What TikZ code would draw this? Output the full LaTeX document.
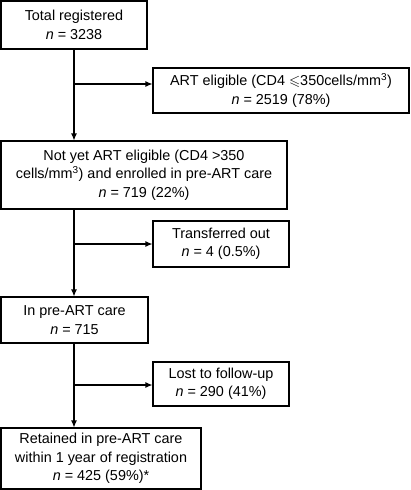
\documentclass[tikz,border=0pt]{standalone}
\usepackage{amssymb}
\usepackage{fontspec}
\setmainfont{Liberation Sans}
\usetikzlibrary{arrows.meta}
\begin{document}
\begin{tikzpicture}[x=1pt,y=-1pt,
  box/.style={draw,line width=1.1pt,align=center,inner sep=0pt,
    font=\fontsize{14.4}{18.5}\selectfont},
  conn/.style={line width=1.1pt},
  arr/.style={conn,-{Latex[length=7pt,width=6pt]}}]
\useasboundingbox (0,0) rectangle (410,490);
\node[box,minimum width=146,minimum height=48] (b1) at (74,25) {Total registered\\\textit{n} = 3238};
\node[box,minimum width=256,minimum height=45] (b2) at (281,90.5) {ART eligible (CD4 $\leqslant$350cells/mm\textsuperscript{3})\\\textit{n} = 2519 (78\%)};
\node[box,minimum width=286,minimum height=68] (b3) at (144,175) {Not yet ART eligible (CD4 >350\\cells/mm\textsuperscript{3}) and enrolled in pre-ART care\\\textit{n} = 719 (22\%)};
\node[box,minimum width=136,minimum height=46] (b4) at (221,244) {Transferred out\\\textit{n} = 4 (0.5\%)};
\node[box,minimum width=147,minimum height=46] (b5) at (74.5,320) {In pre-ART care\\\textit{n} = 715};
\node[box,minimum width=136,minimum height=44] (b6) at (221,384) {Lost to follow-up\\\textit{n} = 290 (41\%)};
\node[box,minimum width=200,minimum height=61] (b7) at (101,458.5) {Retained in pre-ART care\\within 1 year of registration\\\textit{n} = 425 (59\%)*};
\coordinate (j1) at (74,84);
\coordinate (j2) at (74,244);
\coordinate (j3) at (74,385);
\draw[arr] (b1.south -| j1) -- (b3.north -| j1);
\draw[arr] (j1) -- (b2.west |- j1);
\draw[arr] (b3.south -| j2) -- (b5.north -| j2);
\draw[arr] (j2) -- (b4.west |- j2);
\draw[arr] (b5.south -| j3) -- (b7.north -| j3);
\draw[arr] (j3) -- (b6.west |- j3);
\end{tikzpicture}
\end{document}
